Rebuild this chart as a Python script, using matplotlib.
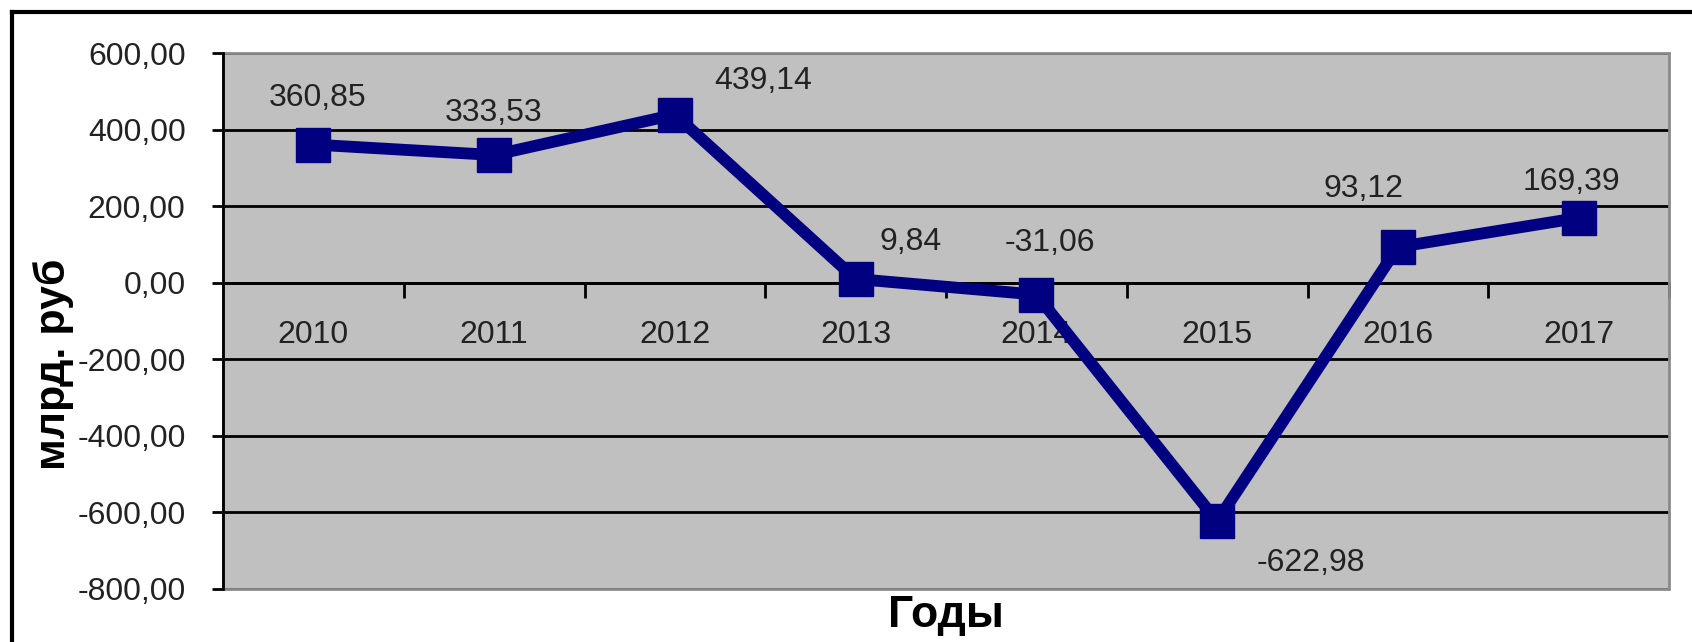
import matplotlib
matplotlib.use("Agg")
import matplotlib.pyplot as plt
from matplotlib.patches import Rectangle
from matplotlib.lines import Line2D
from matplotlib.ticker import FixedLocator, FuncFormatter
import numpy as np

years = ["2010", "2011", "2012", "2013", "2014", "2015", "2016", "2017"]
values = [360.85, 333.53, 439.14, 9.84, -31.06, -622.98, 93.12, 169.39]
value_labels = ["360,85", "333,53", "439,14", "9,84", "-31,06", "-622,98", "93,12", "169,39"]
y_ticks = [-800, -600, -400, -200, 0, 200, 400, 600]

# label offsets in pixels (style, not data)
label_offsets = [(4, 47), (-1, 42), (88, 34), (55, 37), (14, 52), (94, -42), (-34, 58), (-7, 36)]

plt.rcParams['font.family'] = ['Liberation Sans', 'DejaVu Sans']
W, H = 1692, 642
fig = plt.figure(figsize=(W / 100, H / 100), dpi=100)
fig.patch.set_facecolor("white")

L, R, T, B = 223, 1669, 53, 589
ax = fig.add_axes([L / W, 1 - B / H, (R - L) / W, (B - T) / H])
ax.set_facecolor("#C0C0C0")

x = np.arange(len(years))
ax.plot(x, values, color="#000080", lw=8.5, marker="s", markersize=25,
        markeredgecolor="#000080", markerfacecolor="#000080", zorder=5,
        solid_joinstyle="miter")

ax.set_xlim(-0.5, len(years) - 0.5)
ax.set_ylim(-800, 600)

txt = "#222222"
# y axis
ax.yaxis.set_major_locator(FixedLocator(y_ticks))
ax.yaxis.set_major_formatter(FuncFormatter(lambda v, p: f"{v:.2f}".replace(".", ",")))
ax.tick_params(axis="y", direction="out", length=8, width=2, color="black",
               labelsize=23, labelcolor=txt, pad=19)
ax.yaxis.grid(True, color="black", lw=2)
ax.set_axisbelow(True)

# x axis at zero
ax.spines["bottom"].set_position(("data", 0))
ax.spines["bottom"].set_color("black")
ax.spines["bottom"].set_linewidth(2)
ax.spines["left"].set_color("black")
ax.spines["left"].set_linewidth(2)
for s in ["top", "right"]:
    ax.spines[s].set_visible(False)
ax.xaxis.set_major_locator(FixedLocator(np.arange(-0.5, len(years), 1.0)))
ax.xaxis.set_major_formatter(FuncFormatter(lambda v, p: ""))
ax.xaxis.set_minor_locator(FixedLocator(x))
ax.xaxis.set_minor_formatter(FuncFormatter(lambda v, p: years[int(round(v))]))
ax.tick_params(axis="x", which="major", direction="out", length=11, width=2, color="black")
ax.tick_params(axis="x", which="minor", length=0, labelsize=23, labelcolor=txt, pad=26.5)

# gray plot border
ax.add_patch(Rectangle((0, 0), 1, 1, transform=ax.transAxes, fill=False,
                       ec="#8a8a8a", lw=2, zorder=3, clip_on=False))
ax.add_line(Line2D([0, 0], [0, 1], transform=ax.transAxes, color="black", lw=2,
                   zorder=4, clip_on=False))

for xi, v, lab, (dx, dy) in zip(x, values, value_labels, label_offsets):
    ax.annotate(lab, (xi, v), xytext=(dx, dy), textcoords="offset pixels",
                ha="center", va="center", fontsize=23, color=txt, zorder=6)

fig.text(54 / W, 1 - 364 / H, "млрд. руб", rotation=90, ha="center", va="center",
         fontsize=31, fontweight="bold", color="black")
fig.text(946 / W, 1 - 615 / H, "Годы", ha="center", va="center",
         fontsize=32, fontweight="bold", color="black")

# figure frame
fig.add_artist(Line2D([12 / W, 12 / W], [0, 1 - 12 / H], transform=fig.transFigure,
                      color="black", lw=3))
fig.add_artist(Line2D([12 / W, 1], [1 - 12 / H, 1 - 12 / H], transform=fig.transFigure,
                      color="black", lw=3))

fig.savefig("out.png", dpi=100, facecolor="white")
